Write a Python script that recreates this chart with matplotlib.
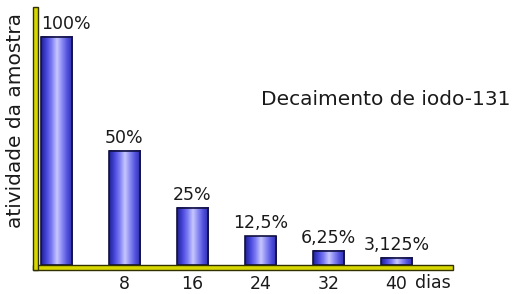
import numpy as np
import matplotlib
matplotlib.use("Agg")
import matplotlib.pyplot as plt
from matplotlib.colors import LinearSegmentedColormap
from matplotlib.patches import Rectangle

days = [0, 8, 16, 24, 32, 40]
activity = [100, 50, 25, 12.5, 6.25, 3.125]
value_labels = ["100%", "50%", "25%", "12,5%", "6,25%", "3,125%"]
tick_labels = ["", "8", "16", "24", "32", "40"]

plt.rcParams["font.family"] = ["DejaVu Sans"]
W, H = 524, 294
TXT = "#1a1a1a"
fig = plt.figure(figsize=(W / 100, H / 100), dpi=100)
ax = fig.add_axes([33 / W, (H - 265) / H, 420 / W, 257 / H])

cmap = LinearSegmentedColormap.from_list(
    "cyl", ["#202090", "#4646dc", "#7c7cf4", "#c8c8ff", "#8888f4", "#5050dc", "#2c2cac"])
grad = np.linspace(0, 1, 64).reshape(1, -1)
bw = 3.65
for d, v in zip(days, activity):
    ax.imshow(grad, cmap=cmap, extent=(d - bw / 2, d + bw / 2, 0, v),
              aspect="auto", interpolation="bilinear", zorder=2)
ax.bar(days, activity, width=bw, facecolor="none", edgecolor="#101040",
       linewidth=1.2, zorder=3)

for i, (d, v, lab) in enumerate(zip(days, activity, value_labels)):
    if i == 0:
        ax.annotate(lab, (d - bw / 2, v), xytext=(0, 3), textcoords="offset points",
                    ha="left", va="bottom", fontsize=12.5, color=TXT)
    else:
        ax.annotate(lab, (d, v), xytext=(0, 3), textcoords="offset points",
                    ha="center", va="bottom", fontsize=12.5, color=TXT)

ax.set_xlim(-2.76, 46.65)
ax.set_ylim(0, 112.7)
ax.set_xticks(days)
ax.set_xticklabels(tick_labels, fontsize=12.5, color=TXT)
ax.tick_params(axis="x", length=0, pad=7)
ax.set_yticks([])
for s in ax.spines.values():
    s.set_visible(False)

# yellow 3D-ish axis slabs
fig.patches.append(Rectangle((33 / W, (H - 270) / H), 420 / W, 5 / H,
                             transform=fig.transFigure, facecolor="#d8d800",
                             edgecolor="#303000", linewidth=1, zorder=5))
fig.patches.append(Rectangle((33 / W, (H - 270) / H), 5 / W, 263 / H,
                             transform=fig.transFigure, facecolor="#d8d800",
                             edgecolor="#303000", linewidth=1, zorder=5))

fig.text(16 / W, 1 - 121 / H, "atividade da amostra", rotation=90,
         ha="center", va="center", fontsize=14.5, color=TXT)
fig.text(386 / W, 1 - 100 / H, "Decaimento de iodo-131", ha="center",
         va="center", fontsize=14.5, color=TXT)
fig.text(433 / W, 1 - 283 / H, "dias", ha="center", va="center",
         fontsize=12.5, color=TXT)

fig.savefig("out.png", dpi=100)
